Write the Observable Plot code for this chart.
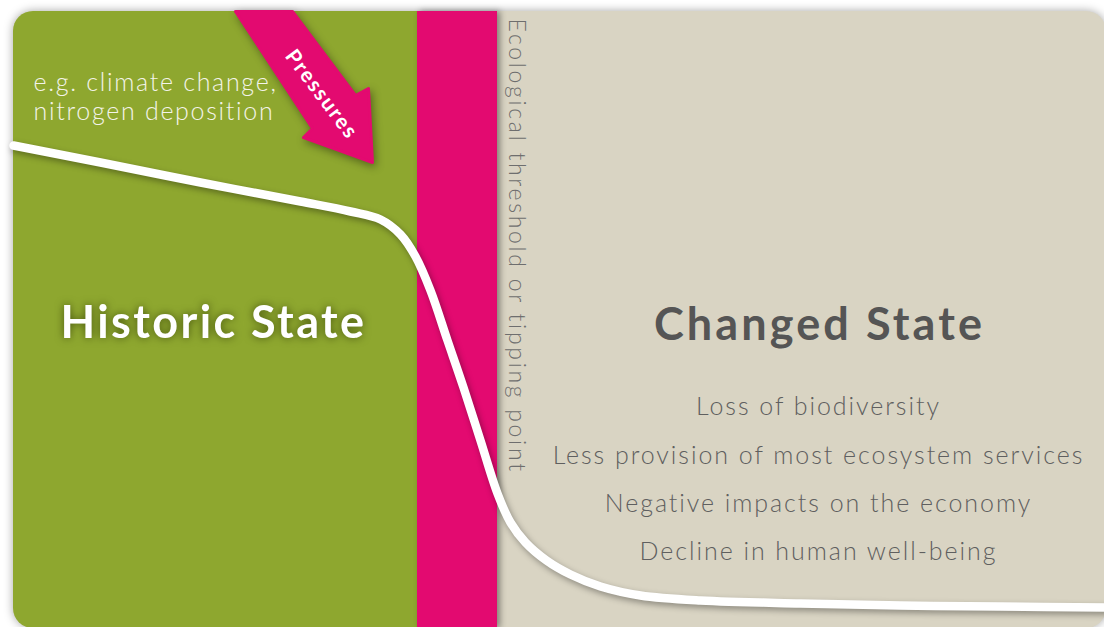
<!DOCTYPE html>
<html>
<head>
<meta charset="utf-8">
<script src="https://cdn.jsdelivr.net/npm/d3@7"></script>
<script src="https://cdn.jsdelivr.net/npm/@observablehq/plot@0.6"></script>
<style>
  html, body { margin: 0; padding: 0; background: #ffffff; }
  #chart svg { display: block; }
</style>
</head>
<body>
<div id="chart"></div>
<script>
// ---- data (pixel space of the diagram) ----
const panelX = [13, 1106];
const panelY = [11, 628];
const zoneNames = ["Historic State", "Ecological threshold", "Changed State"];
const zoneX1 = [13, 417, 497];
const zoneX2 = [460, 497, 1106];

// the white state curve
const curveX = [13, 100, 200, 300, 350, 380, 400, 415, 430, 447, 463, 480, 497, 510, 525, 546, 570, 600, 640, 700, 800, 900, 1000, 1106];
const curveY = [145, 162, 182, 201, 211, 219, 234, 256, 290, 340, 387, 440, 493, 522, 542, 560, 574, 586, 595, 600, 603, 605, 606, 607];

// the "Pressures" arrow outline
const arrowX = [235, 292, 355, 368, 372, 303, 312];
const arrowY = [11, 11, 95, 88, 162, 137, 128];

// labels
const headLabels = ["Historic State", "Changed State"];
const headX = [213, 819];
const headY = [337, 339];

const exampleLines = ["e.g. climate change,", "nitrogen deposition"];
const exampleX = [33, 33];
const exampleY = [90, 119];

const impacts = ["Loss of biodiversity", "Less provision of most ecosystem services", "Negative impacts on the economy", "Decline in human well-being"];
const impactX = [818, 818, 818, 818];
const impactY = [414, 463, 511, 559];

const thresholdLabel = "Ecological threshold or tipping point";
const pressureLabel = "Pressures";

// ---- build tables ----
const zones = zoneNames.map((n, i) => ({name: n, x1: zoneX1[i], x2: zoneX2[i], y1: panelY[0], y2: panelY[1]}));
const panel = [{x1: panelX[0], x2: panelX[1], y1: panelY[0], y2: panelY[1]}];
const curve = curveX.map((x, i) => ({x, y: curveY[i]}));
const arrow = arrowX.map((x, i) => ({x, y: arrowY[i]}));
const heads = headLabels.map((t, i) => ({t, x: headX[i], y: headY[i]}));
const examples = exampleLines.map((t, i) => ({t, x: exampleX[i], y: exampleY[i]}));
const impactRows = impacts.map((t, i) => ({t, x: impactX[i], y: impactY[i]}));

const GREEN = "#8ea72f", MAGENTA = "#e30a70", BEIGE = "#d9d4c3";

const chart = Plot.plot({
  width: 1104,
  height: 627,
  margin: 0,
  x: {domain: [0, 1104], range: [0, 1104], axis: null},
  y: {domain: [0, 627], range: [0, 627], axis: null},
  style: {background: "#ffffff", fontFamily: "Lato, 'Open Sans', sans-serif"},
  marks: [
    // panel (beige) with soft shadow
    Plot.rect(panel, {x1: "x1", x2: "x2", y1: "y1", y2: "y2", rx: 20, fill: BEIGE,
      imageFilter: "drop-shadow(0px 0px 5px rgba(0,0,0,0.35))"}),
    // green historic zone
    Plot.rect(zones.filter(d => d.name === "Historic State"), {x1: "x1", x2: "x2", y1: "y1", y2: "y2", rx: 20, fill: GREEN}),
    // magenta threshold band
    Plot.rect(zones.filter(d => d.name === "Ecological threshold"), {x1: "x1", x2: "x2", y1: "y1", y2: "y2", fill: MAGENTA,
      imageFilter: "drop-shadow(3px 0px 3px rgba(0,0,0,0.4))"}),
    // threshold label (vertical)
    Plot.text([thresholdLabel], {x: () => 508, y: () => 18, text: d => d, rotate: 90, textAnchor: "start", lineAnchor: "bottom",
      fill: "#6e6e6e", fontSize: 23, fontWeight: 300}),
    // white state curve
    Plot.line(curve, {x: "x", y: "y", curve: "catmull-rom", stroke: "#ffffff", strokeWidth: 8.5,
      imageFilter: "drop-shadow(2px 3px 3px rgba(0,0,0,0.35))"}),
    // pressures arrow
    Plot.line(arrow, {x: "x", y: "y", curve: "linear-closed", fill: MAGENTA, stroke: MAGENTA, strokeWidth: 3, strokeLinejoin: "round",
      imageFilter: "drop-shadow(2px 3px 4px rgba(0,0,0,0.4))"}),
    Plot.text([pressureLabel], {x: () => 321, y: () => 94, text: d => d, rotate: 53, fill: "#ffffff", fontSize: 21, fontWeight: 700}),
    // example pressures
    Plot.text(examples, {x: "x", y: "y", text: "t", textAnchor: "start", lineAnchor: "bottom", fill: "#f4f4ea", fontSize: 25, fontWeight: 300}),
    // headings
    Plot.text(heads.slice(0, 1), {x: "x", y: "y", text: "t", lineAnchor: "bottom", fill: "#ffffff", fontSize: 45, fontWeight: 700,
      imageFilter: "drop-shadow(0px 0px 4px rgba(40,50,0,0.7))"}),
    Plot.text(heads.slice(1), {x: "x", y: "y", text: "t", lineAnchor: "bottom", fill: "#555555", fontSize: 45, fontWeight: 700}),
    // impacts
    Plot.text(impactRows, {x: "x", y: "y", text: "t", lineAnchor: "bottom", fill: "#5f5f5f", fontSize: 25, fontWeight: 300})
  ]
});

// Widen the lettering a little to match the wide geometric face of the original
const spacing = ["2.7px", "1.8px", "1.7px", "2.4px", "3.1px", "1.95px"];
d3.select(chart).selectAll('g[aria-label="text"]').each(function(d, i) {
  if (spacing[i]) this.style.letterSpacing = spacing[i];
});

document.getElementById("chart").appendChild(chart);
</script>
</body>
</html>
